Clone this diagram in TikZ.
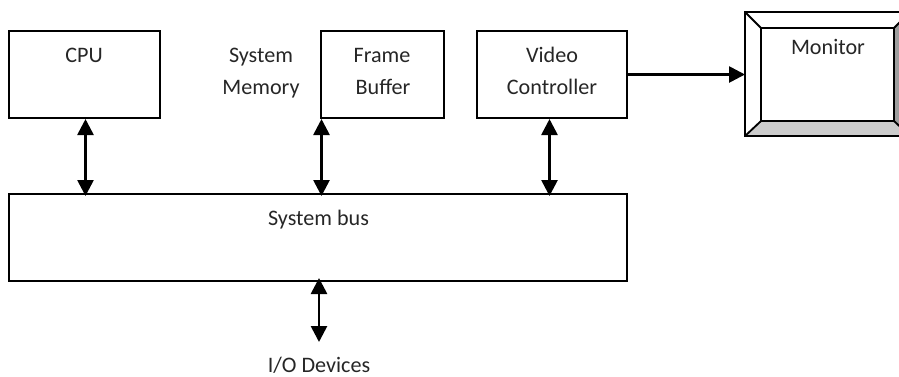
\documentclass[tikz,border=0pt]{standalone}
\usepackage{fontspec}
\setmainfont{Carlito}
\usetikzlibrary{arrows.meta}
\tikzset{
  x=0.75pt,y=-0.75pt,
  box/.style={draw=black,line width=1.4pt,anchor=north west,inner sep=0pt,outer sep=0pt},
  lbl/.style={font=\fontsize{16.6}{16.6}\selectfont,text=black!85,inner sep=0pt,anchor=base},
  link/.style={line width=2pt,{Triangle[length=12pt,width=12pt]}-{Triangle[length=12pt,width=12pt]}},
  oneway/.style={line width=2pt,-{Triangle[length=12pt,width=12pt]}},
  bevel/.style={draw=black,line width=1.4pt,line join=miter}
}
\begin{document}
\begin{tikzpicture}
\useasboundingbox (0,0) rectangle (899,376);
\clip (0,0) rectangle (899,376);
\node[box,minimum width=151*0.75pt,minimum height=87*0.75pt] (cpu) at (9,31) {};
\node[box,minimum width=123*0.75pt,minimum height=87*0.75pt] (fb) at (321,31) {};
\node[box,minimum width=150*0.75pt,minimum height=87*0.75pt] (vc) at (477,31) {};
\node[box,minimum width=618*0.75pt,minimum height=87*0.75pt] (bus) at (9,194) {};
\node[lbl] at (84,62) {CPU};
\node[lbl] at (261,62) {System};
\node[lbl] at (261,94) {Memory};
\node[lbl] at (382,62) {Frame};
\node[lbl] at (383,94) {Buffer};
\node[lbl] at (552,62) {Video};
\node[lbl] at (552,94) {Controller};
\node[lbl] at (318.5,225) {System bus};
\node[lbl] (io) at (319,372) {I/O Devices};
% monitor
\coordinate (oa) at (745,12);
\coordinate (ob) at (910,12);
\coordinate (oc) at (910,136);
\coordinate (od) at (745,136);
\coordinate (ia) at (761,28);
\coordinate (ib) at (894,28);
\coordinate (ic) at (894,121);
\coordinate (id) at (761,121);
\fill[white] (oa) -- (ob) -- (oc) -- (od) -- cycle;
\fill[black!20] (od) -- (oc) -- (ic) -- (id) -- cycle;
\fill[black!38] (ob) -- (oc) -- (ic) -- (ib) -- cycle;
\draw[bevel] (oa) -- (ob) -- (oc) -- (od) -- cycle;
\draw[bevel] (ia) -- (ib) -- (ic) -- (id) -- cycle;
\draw[bevel] (oa) -- (ia) (ob) -- (ib) (oc) -- (ic) (od) -- (id);
\node[lbl] (mon) at (828,54.5) {Monitor};
\coordinate (monin) at (745,74.5);
\coordinate (vcout) at (627,74.5);
\coordinate (c1t) at (85.5,119);\coordinate (c1b) at (85.5,196);
\coordinate (c2t) at (321.5,119);\coordinate (c2b) at (321.5,196);
\coordinate (c3t) at (549.5,119);\coordinate (c3b) at (549.5,196);
\coordinate (c4t) at (319,278);\coordinate (c4b) at (319,342);
\draw[link] (c1t) -- (c1b);
\draw[link] (c2t) -- (c2b);
\draw[link] (c3t) -- (c3b);
\draw[link] (c4t) -- (c4b);
\draw[oneway] (vcout) -- (monin);
\end{tikzpicture}
\end{document}
